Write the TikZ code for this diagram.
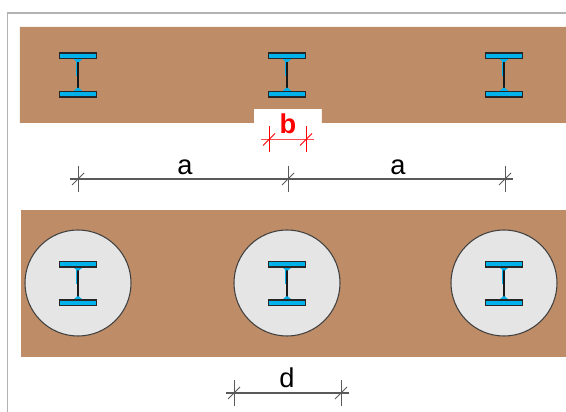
\documentclass[tikz,border=0pt]{standalone}
\usepackage{fontspec}
\setmainfont{Liberation Sans}
\usetikzlibrary{positioning}
\definecolor{woodbrown}{RGB}{190,141,103}
\definecolor{steelblue}{RGB}{0,178,236}
\definecolor{holegray}{RGB}{229,229,229}
\tikzset{
  band/.style={fill=woodbrown,draw=none},
  hole/.style={circle,draw=black!75,fill=holegray,line width=0.6pt,minimum size=106*0.02cm,inner sep=0pt},
  dimline/.style={black!65,line width=0.6pt,shorten <=-4.5pt,shorten >=-4.5pt},
  dimred/.style={dimline,red!70},
  dimlabel/.style={font=\fontsize{15.5}{18}\selectfont,inner sep=0pt,text height=11pt,text depth=0pt},
  pics/ibeam/.style={code={
    \draw[steelblue,line width=0.7pt] (-1.6,-14) -- (-1.6,1);
    \draw[black!90,line width=1.1pt] (0,-15) -- (0,15);
    \fill[steelblue] (-4.5,-16) -- (4.5,-16) -- (1,-13) -- (-1,-13) -- cycle;
    \fill[steelblue] (-4.5,16) -- (4.5,16) -- (1,13) -- (-1,13) -- cycle;
    \draw[black!85,fill=steelblue,line width=0.8pt] (-18.5,-22) rectangle (18.5,-16.5);
    \draw[black!85,fill=steelblue,line width=0.8pt] (-18.5,16.5) rectangle (18.5,22);
  }},
  pics/tick/.style={code={
    \draw[line width=0.55pt] (0,-13) -- (0,13);
    \draw[line width=0.55pt] (-6,6) -- (6,-6);
  }}
}
\begin{document}
\begin{tikzpicture}[x=0.02cm,y=-0.02cm]
\useasboundingbox (0,0) rectangle (566,412);
% frame
\draw[black!30,line width=1pt] (7.5,412) -- (7.5,13) -- (566,13);
% top band with notch
\fill[band] (20,27) -- (566,27) -- (566,123) -- (322,123) -- (322,109) -- (254,109) -- (254,123) -- (20,123) -- cycle;
% bottom band
\fill[band] (21,210) rectangle (566,357);
% beams
\foreach \name/\x in {p/78,q/287,r/504} {
  \pic at (\x,75) {ibeam};
  \node[hole] (hole\name) at (\x,283) {};
  \pic at (\x,283.5) {ibeam};
}
% dimensions
\coordinate (a1) at (78,179);
\coordinate (a2) at (288,179);
\coordinate (a3) at (505,179);
\coordinate (b1) at (269,139.5);
\coordinate (b2) at (306,139.5);
\coordinate (d1) at (234,393);
\coordinate (d2) at (341,393);
\draw[dimline] (a1) -- (a2);
\draw[dimline] (a2) -- (a3);
\draw[dimred] (b1) -- (b2);
\draw[dimline] (d1) -- (d2);
\foreach \c in {a1,a2,a3,d1,d2}
  \pic[black!65] at (\c) {tick};
\foreach \c in {b1,b2}
  \pic[red] at (\c) {tick};
\node[dimlabel] (la1) at (185,165) {a};
\node[dimlabel] (la2) at (398,165) {a};
\node[dimlabel,text=red] (lb) at (288,124) {\bfseries b};
\node[dimlabel] (ld) at (287,378) {d};
\end{tikzpicture}
\end{document}
